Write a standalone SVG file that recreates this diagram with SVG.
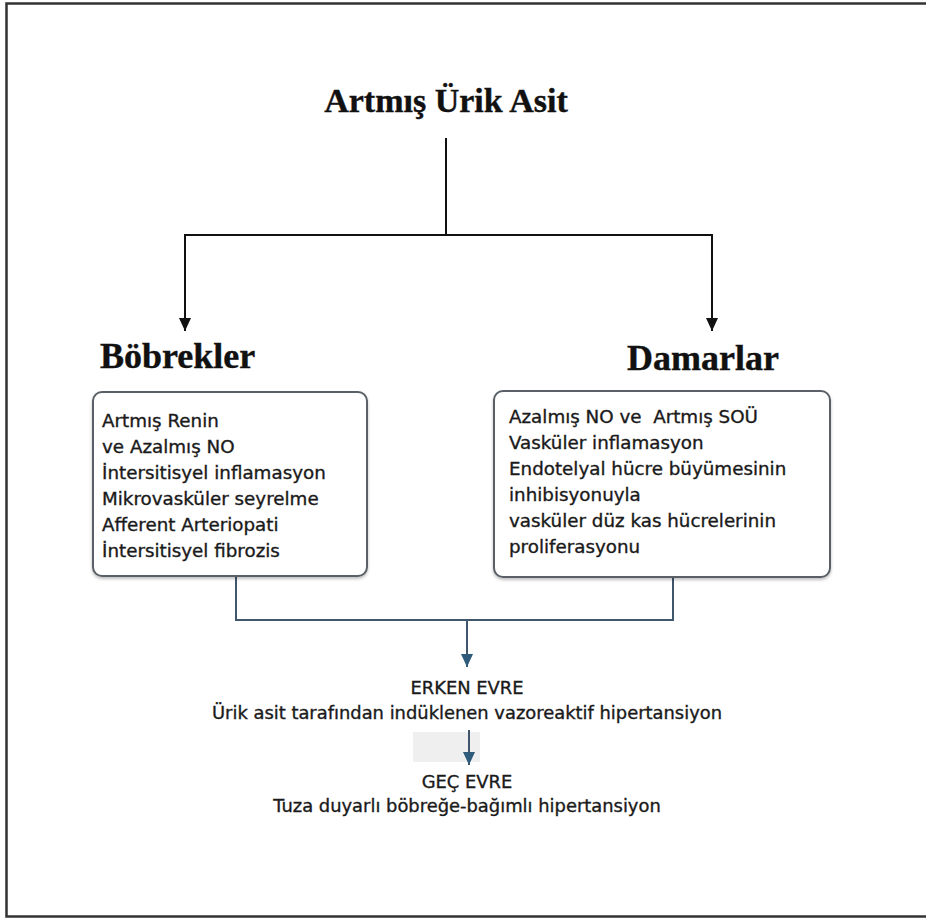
<svg xmlns="http://www.w3.org/2000/svg" width="926" height="919" viewBox="0 0 926 919">
<style>
.h{font-family:"Liberation Serif","Times New Roman",serif;font-weight:bold;fill:#111;stroke:#111;stroke-width:0.4;}
.t{font-family:"DejaVu Sans",Verdana,sans-serif;font-size:18.3px;fill:#1a1a1a;stroke:#1a1a1a;stroke-width:0.35;}
.b{font-family:"DejaVu Sans",Verdana,sans-serif;font-size:17.9px;fill:#1a1a1a;stroke:#1a1a1a;stroke-width:0.35;}
.box{fill:#fff;stroke:#5a6068;stroke-width:2;}
.blk{stroke:#111;stroke-width:2;fill:none;}
.blu{stroke:#3f566b;stroke-width:2;fill:none;}
</style>
<defs>
<marker id="ab" markerWidth="13" markerHeight="12" refX="13" refY="6" orient="auto" markerUnits="userSpaceOnUse" viewBox="0 0 13 12">
<path d="M0,0 L13,6 L0,12 Z" fill="#111"/>
</marker>
<marker id="ablue" markerWidth="13" markerHeight="12" refX="13" refY="6" orient="auto" markerUnits="userSpaceOnUse" viewBox="0 0 13 12">
<path d="M0,0 L13,6 L0,12 Z" fill="#2f5b7a"/>
</marker>
<filter id="sh" x="-5%" y="-5%" width="110%" height="115%">
<feDropShadow dx="0" dy="2" stdDeviation="1.5" flood-color="#000" flood-opacity="0.25"/>
</filter>
</defs>
<rect x="0" y="0" width="926" height="919" fill="#fff"/>
<rect x="6.5" y="3.5" width="930" height="913" fill="none" stroke="#333" stroke-width="2.5"/>
<rect x="413" y="732" width="67" height="30" fill="#efefef"/>

<g id="connectors">
<line class="blk" x1="446" y1="138" x2="446" y2="235"/>
<polyline class="blk" points="185,325 185,235 712,235 712,325"/>
<line class="blk" x1="185" y1="320" x2="185" y2="331" marker-end="url(#ab)"/>
<line class="blk" x1="712" y1="320" x2="712" y2="331" marker-end="url(#ab)"/>
<polyline class="blu" points="236,577 236,620 673,620 673,578"/>
<line class="blu" x1="467" y1="620" x2="467" y2="667" marker-end="url(#ablue)"/>
<line class="blu" x1="469" y1="730" x2="469" y2="765" marker-end="url(#ablue)"/>
</g>

<g id="title">
<text class="h" x="446" y="112" font-size="34" text-anchor="middle">Artmış Ürik Asit</text>
</g>

<g id="bobrekler">
<text class="h" x="100" y="368" font-size="36">Böbrekler</text>
<rect class="box" x="93" y="392" width="274" height="184" rx="9" filter="url(#sh)"/>
<text class="t">
<tspan x="102" y="427">Artmış Renin</tspan>
<tspan x="102" y="453">ve Azalmış NO</tspan>
<tspan x="102" y="479">İntersitisyel inflamasyon</tspan>
<tspan x="102" y="505">Mikrovasküler seyrelme</tspan>
<tspan x="102" y="531">Afferent Arteriopati</tspan>
<tspan x="102" y="557">İntersitisyel fibrozis</tspan>
</text>
</g>

<g id="damarlar">
<text class="h" x="627" y="370" font-size="36">Damarlar</text>
<rect class="box" x="494" y="391" width="336" height="186" rx="9" filter="url(#sh)"/>
<text class="t" xml:space="preserve"><tspan x="509" y="423">Azalmış NO ve  Artmış SOÜ</tspan><tspan x="509" y="449">Vasküler inflamasyon</tspan><tspan x="509" y="475">Endotelyal hücre büyümesinin</tspan><tspan x="509" y="501">inhibisyonuyla</tspan><tspan x="509" y="527">vasküler düz kas hücrelerinin</tspan><tspan x="509" y="553">proliferasyonu</tspan></text>
</g>

<g id="erken">
<text class="b" x="467" y="694" text-anchor="middle">ERKEN EVRE</text>
<text class="b" x="467" y="719" text-anchor="middle">Ürik asit tarafından indüklenen vazoreaktif hipertansiyon</text>
</g>

<g id="gec">
<text class="b" x="467" y="788" text-anchor="middle">GEÇ EVRE</text>
<text class="b" x="467" y="812" text-anchor="middle">Tuza duyarlı böbreğe-bağımlı hipertansiyon</text>
</g>
</svg>
